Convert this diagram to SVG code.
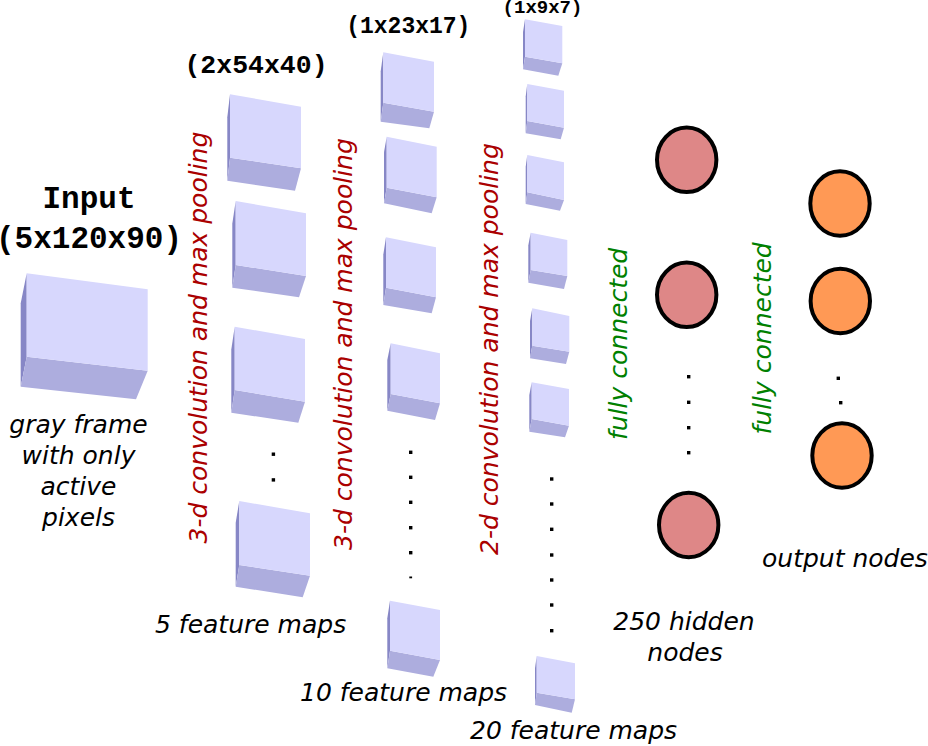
<svg xmlns="http://www.w3.org/2000/svg" width="928" height="746" viewBox="0 0 928 746">
<style>
.f{fill:#d7d7fd}
.b{fill:#adadde}
.s{fill:#8787c6}
.mono{font-family:"Liberation Mono","Courier New",monospace;font-weight:bold;fill:#000;text-anchor:middle}
.it{font-family:"DejaVu Sans","Liberation Sans",sans-serif;font-style:oblique;font-size:25px;fill:#000}
.red{font-family:"DejaVu Sans","Liberation Sans",sans-serif;font-style:oblique;font-size:25px;fill:#aa0000}
.grn{font-family:"DejaVu Sans","Liberation Sans",sans-serif;font-style:oblique;font-size:25px;fill:#008000}
.hid{fill:#de8787;stroke:#000;stroke-width:4}
.out{fill:#ff9955;stroke:#000;stroke-width:4}
.dot{fill:#000}
</style>
<rect width="928" height="746" fill="#fff"/>

<g id="input">
<polygon class="s" points="26.7,273.3 20.7,303.3 20.7,386.7 26.7,356.7"/>
<polygon class="b" points="26.7,356.7 147.7,370.7 136,399.3 20.7,386.7"/>
<polygon class="f" points="26.7,273.3 147.7,289.3 147.7,370.7 26.7,356.7"/>
<text class="mono" x="89" y="208" font-size="31">Input</text>
<text class="mono" x="89" y="248" font-size="31">(5x120x90)</text>
<text class="it" text-anchor="middle" x="78.5" y="433">gray frame</text>
<text class="it" text-anchor="middle" x="78.5" y="464">with only</text>
<text class="it" text-anchor="middle" x="78.5" y="495">active</text>
<text class="it" text-anchor="middle" x="78.5" y="526">pixels</text>
</g>

<g id="layer1">
<text class="mono" x="256" y="73" font-size="26.5">(2x54x40)</text>
<g id="l1b1">
<polygon class="s" points="230,94.3 227.3,117.3 227.3,180.7 230,157.7"/>
<polygon class="b" points="230,157.7 301,168.3 295,190.7 227.3,180.7"/>
<polygon class="f" points="230,94.3 301,106.7 301,168.3 230,157.7"/>
</g>
<g id="l1b2">
<polygon class="s" points="235.7,201 232.3,223.7 232.3,287.7 235.7,265"/>
<polygon class="b" points="235.7,265 306,276 299,297.3 232.3,287.7"/>
<polygon class="f" points="235.7,201 306,213.3 306,276 235.7,265"/>
</g>
<g id="l1b3">
<polygon class="s" points="234.7,326.7 231.3,349.4 231.3,412.7 234.7,390"/>
<polygon class="b" points="234.7,390 305,401.7 298.3,422.7 231.3,412.7"/>
<polygon class="f" points="234.7,326.7 305,339 305,401.7 234.7,390"/>
</g>
<g id="l1b4">
<polygon class="s" points="239.3,501 235.7,522.7 235.7,586.7 239.3,565"/>
<polygon class="b" points="239.3,565 310,575.7 302.7,597.3 235.7,586.7"/>
<polygon class="f" points="239.3,501 310,513.3 310,575.7 239.3,565"/>
</g>
<rect class="dot" x="271.7" y="452.5" width="3.4" height="3.4"/>
<rect class="dot" x="271.7" y="478.2" width="3.4" height="3.4"/>
<text class="it" x="155" y="633">5 feature maps</text>
</g>

<g id="layer2">
<text class="mono" x="408.3" y="33" font-size="23">(1x23x17)</text>
<g id="l2b1">
<polygon class="s" points="383.3,52.3 380.7,71.3 380.7,121.7 383.3,102.7"/>
<polygon class="b" points="383.3,102.7 434,111.7 429.3,128.3 380.7,121.7"/>
<polygon class="f" points="383.3,52.3 434,61.7 434,111.7 383.3,102.7"/>
</g>
<g id="l2b2">
<polygon class="s" points="386.7,136.7 384,152.3 384,203.3 386.7,187.7"/>
<polygon class="b" points="386.7,187.7 436.7,197.3 431.7,213.3 384,203.3"/>
<polygon class="f" points="386.7,136.7 436.7,146.7 436.7,197.3 386.7,187.7"/>
</g>
<g id="l2b3">
<polygon class="s" points="386,237.3 383.3,254.6 383.3,305 386,287.7"/>
<polygon class="b" points="386,287.7 436,297.3 431.7,313.3 383.3,305"/>
<polygon class="f" points="386,237.3 436,247.3 436,297.3 386,287.7"/>
</g>
<g id="l2b4">
<polygon class="s" points="390.7,343.3 387.3,360 387.3,410.7 390.7,394"/>
<polygon class="b" points="390.7,394 440,403.3 435,420 387.3,410.7"/>
<polygon class="f" points="390.7,343.3 440,353.3 440,403.3 390.7,394"/>
</g>
<g id="l2b5">
<polygon class="s" points="390,600.7 387.3,618.3 387.3,668.3 390,650.7"/>
<polygon class="b" points="390,650.7 440,660 433.3,676.7 387.3,668.3"/>
<polygon class="f" points="390,600.7 440,610 440,660 390,650.7"/>
</g>
<rect class="dot" x="409" y="450.6" width="3.4" height="3.4"/>
<rect class="dot" x="409" y="475.6" width="3.4" height="3.4"/>
<rect class="dot" x="409" y="500.6" width="3.4" height="3.4"/>
<rect class="dot" x="409" y="526" width="3.4" height="3.4"/>
<rect class="dot" x="409" y="551" width="3.4" height="3.4"/>
<rect class="dot" x="409.3" y="576.5" width="2.8" height="1.8"/>
<text class="it" x="300" y="701">10 feature maps</text>
</g>

<g id="layer3">
<text class="mono" x="542.5" y="13" font-size="19">(1x9x7)</text>
<g id="l3b1">
<polygon class="s" points="525,19.3 523,32 523,69.3 525,56.7"/>
<polygon class="b" points="525,56.7 562.3,63.3 558.3,75.7 523,69.3"/>
<polygon class="f" points="525,19.3 562.3,26 562.3,63.3 525,56.7"/>
</g>
<g id="l3b2">
<polygon class="s" points="527.3,84 525.7,96.3 525.7,133.3 527.3,121"/>
<polygon class="b" points="527.3,121 564,127.7 560.7,139.3 525.7,133.3"/>
<polygon class="f" points="527.3,84 564,90.7 564,127.7 527.3,121"/>
</g>
<g id="l3b3">
<polygon class="s" points="527.3,155 525.7,166.7 525.7,204 527.3,192.3"/>
<polygon class="b" points="527.3,192.3 564,200 560,210.7 525.7,204"/>
<polygon class="f" points="527.3,155 564,162.3 564,200 527.3,192.3"/>
</g>
<g id="l3b4">
<polygon class="s" points="530.7,232.7 528.3,245.4 528.3,282.7 530.7,270"/>
<polygon class="b" points="530.7,270 567.3,276 564,289 528.3,282.7"/>
<polygon class="f" points="530.7,232.7 567.3,240 567.3,276 530.7,270"/>
</g>
<g id="l3b5">
<polygon class="s" points="532.3,308.3 530,321 530,358.3 532.3,345.7"/>
<polygon class="b" points="532.3,345.7 569.3,351.7 566,364 530,358.3"/>
<polygon class="f" points="532.3,308.3 569.3,316 569.3,351.7 532.3,345.7"/>
</g>
<g id="l3b6">
<polygon class="s" points="531.7,382.3 529.3,395 529.3,431.7 531.7,419"/>
<polygon class="b" points="531.7,419 569,425.7 565,437.3 529.3,431.7"/>
<polygon class="f" points="531.7,382.3 569,389 569,425.7 531.7,419"/>
</g>
<g id="l3b7">
<polygon class="s" points="536.7,656 535,668.3 535,705 536.7,692.7"/>
<polygon class="b" points="536.7,692.7 575,699.3 571.7,712.7 535,705"/>
<polygon class="f" points="536.7,656 575,663.3 575,699.3 536.7,692.7"/>
</g>
<rect class="dot" x="550" y="477.3" width="3.4" height="3.4"/>
<rect class="dot" x="550" y="502.3" width="3.4" height="3.4"/>
<rect class="dot" x="550" y="527.6" width="3.4" height="3.4"/>
<rect class="dot" x="550" y="553.3" width="3.4" height="3.4"/>
<rect class="dot" x="550" y="578.3" width="3.4" height="3.4"/>
<rect class="dot" x="550" y="603.3" width="3.4" height="3.4"/>
<rect class="dot" x="550" y="629" width="3.4" height="3.4"/>
<text class="it" x="470" y="739">20 feature maps</text>
</g>

<g id="labels">
<text class="red" transform="translate(206.5,543.5) rotate(-90)">3-d convolution and max pooling</text>
<text class="red" transform="translate(351.5,550) rotate(-90)">3-d convolution and max pooling</text>
<text class="red" transform="translate(497.5,555) rotate(-90)">2-d convolution and max pooling</text>
<text class="grn" transform="translate(627,440) rotate(-90)">fully connected</text>
<text class="grn" transform="translate(771,434.5) rotate(-90)">fully connected</text>
</g>

<g id="hidden">
<ellipse class="hid" cx="686.7" cy="159.8" rx="29.7" ry="32.2"/>
<ellipse class="hid" cx="686.7" cy="294.8" rx="29.7" ry="32.2"/>
<ellipse class="hid" cx="688.7" cy="525" rx="29.7" ry="32.2"/>
<rect class="dot" x="687" y="375" width="3.4" height="3.4"/>
<rect class="dot" x="687" y="400.6" width="3.4" height="3.4"/>
<rect class="dot" x="687" y="426" width="3.4" height="3.4"/>
<rect class="dot" x="687" y="451" width="3.4" height="3.4"/>
<text class="it" text-anchor="middle" x="684" y="630">250 hidden</text>
<text class="it" text-anchor="middle" x="685" y="660.5">nodes</text>
</g>

<g id="output">
<ellipse class="out" cx="840" cy="203.5" rx="29.7" ry="32.2"/>
<ellipse class="out" cx="840.3" cy="301" rx="29.7" ry="32.2"/>
<ellipse class="out" cx="842" cy="455.5" rx="29.7" ry="32.2"/>
<rect class="dot" x="836.6" y="376.6" width="3.4" height="3.4"/>
<rect class="dot" x="839" y="401" width="3.4" height="3.4"/>
<text class="it" x="762" y="566.5">output nodes</text>
</g>

<g id="connectors"/>
</svg>
